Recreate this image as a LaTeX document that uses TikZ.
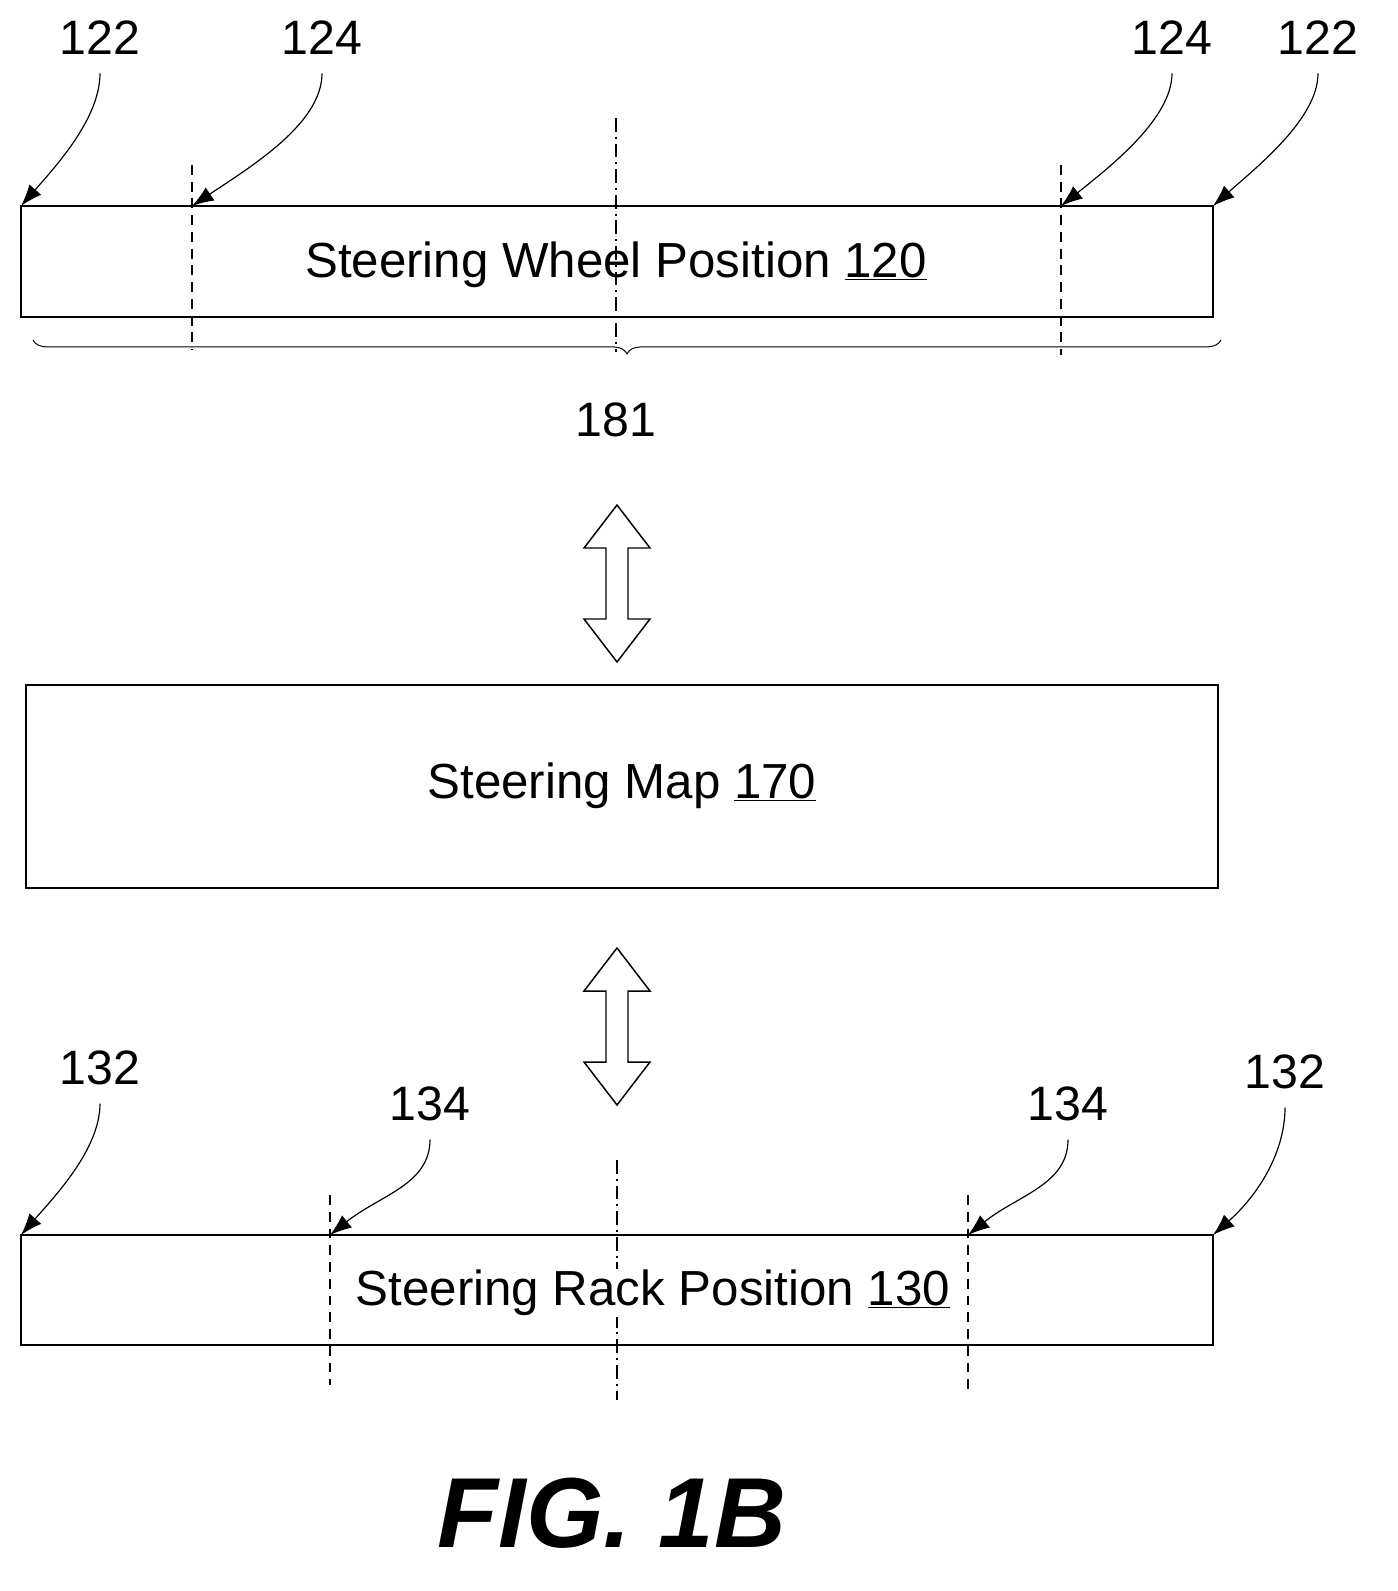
\documentclass[tikz,border=0pt]{standalone}
\usepackage{fontspec}
\setmainfont{Liberation Sans}
\usetikzlibrary{arrows.meta,decorations.pathreplacing}
\begin{document}
\begin{tikzpicture}[x=1.015pt,y=-1.015pt,
  box/.style={draw,line width=1.5pt},
  lbl/.style={font=\fontsize{49}{55}\selectfont},
  txt/.style={font=\fontsize{50}{58}\selectfont},
  lead/.style={line width=1.2pt,-{Latex[length=22pt,width=16pt]}},
  dsh/.style={line width=1.5pt,dash pattern=on 10pt off 7pt},
  dd/.style={line width=1.5pt,dash pattern=on 14pt off 5pt on 2pt off 5pt},
  hol/.style={draw,line width=1.5pt,fill=white}]
\useasboundingbox (0,0) rectangle (1397,1591);
% top box
\draw[box] (21,206) rectangle (1213,317);
\node[txt] (t120) at (616,265) {Steering Wheel Position \underline{120}};
\draw[dsh] (192,165) -- (192,350);
\draw[dsh] (1061,165) -- (1061,355);
\draw[dd] (616,118) -- (616,352);
\draw[decorate,decoration={brace,mirror,amplitude=14pt},line width=1pt] (33,340) -- (1221,340);
\node[lbl] (l181) at (616,420) {181};
\node[lbl] (a122) at (100,38) {122};
\node[lbl] (a124) at (322,38) {124};
\node[lbl] (b124) at (1172,38) {124};
\node[lbl] (b122) at (1318,38) {122};
\coordinate (pa122) at (21,206); \coordinate (pa124) at (192,206);
\coordinate (pb124) at (1061,206); \coordinate (pb122) at (1213,206);
\draw[lead] (a122.south) ++(0,15) .. controls +(0,45) and +(35,-40) .. (pa122);
\draw[lead] (a124.south) ++(0,15) .. controls +(0,50) and +(60,-40) .. (pa124);
\draw[lead] (b124.south) ++(0,15) .. controls +(0,45) and +(50,-40) .. (pb124);
\draw[lead] (b122.south) ++(0,15) .. controls +(0,45) and +(45,-40) .. (pb122);
% arrows
\draw[hol] (617,505) -- (650,548) -- (628,548) -- (628,619) -- (650,619) -- (617,662) -- (584,619) -- (606,619) -- (606,548) -- (584,548) -- cycle;
\draw[hol] (617,948) -- (650,991) -- (628,991) -- (628,1062) -- (650,1062) -- (617,1105) -- (584,1062) -- (606,1062) -- (606,991) -- (584,991) -- cycle;
% map
\draw[box] (26,685) rectangle (1218,888);
\node[txt] (t170) at (622,786) {Steering Map \underline{170}};
% bottom
\draw[box] (21,1235) rectangle (1213,1345);
\draw[dsh] (330,1195) -- (330,1385);
\draw[dsh] (968,1195) -- (968,1390);
\draw[dd] (617,1160) -- (617,1400);
\node[txt,fill=white,inner sep=1pt] (t130) at (653,1293) {Steering Rack Position \underline{130}};
\node[lbl] (c132) at (100,1068) {132};
\node[lbl] (c134) at (430,1104) {134};
\node[lbl] (d134) at (1068,1104) {134};
\node[lbl] (d132) at (1285,1072) {132};
\coordinate (pc132) at (21,1235); \coordinate (pc134) at (330,1235);
\coordinate (pd134) at (968,1235); \coordinate (pd132) at (1213,1235);
\draw[lead] (c132.south) ++(0,15) .. controls +(0,45) and +(35,-40) .. (pc132);
\draw[lead] (c134.south) ++(0,15) .. controls +(0,45) and +(50,-40) .. (pc134);
\draw[lead] (d134.south) ++(0,15) .. controls +(0,45) and +(50,-40) .. (pd134);
\draw[lead] (d132.south) ++(0,15) .. controls +(0,45) and +(45,-40) .. (pd132);
\node[font=\fontsize{101}{112}\selectfont\bfseries\itshape] (fig) at (612,1513) {FIG. 1B};
\end{tikzpicture}
\end{document}
